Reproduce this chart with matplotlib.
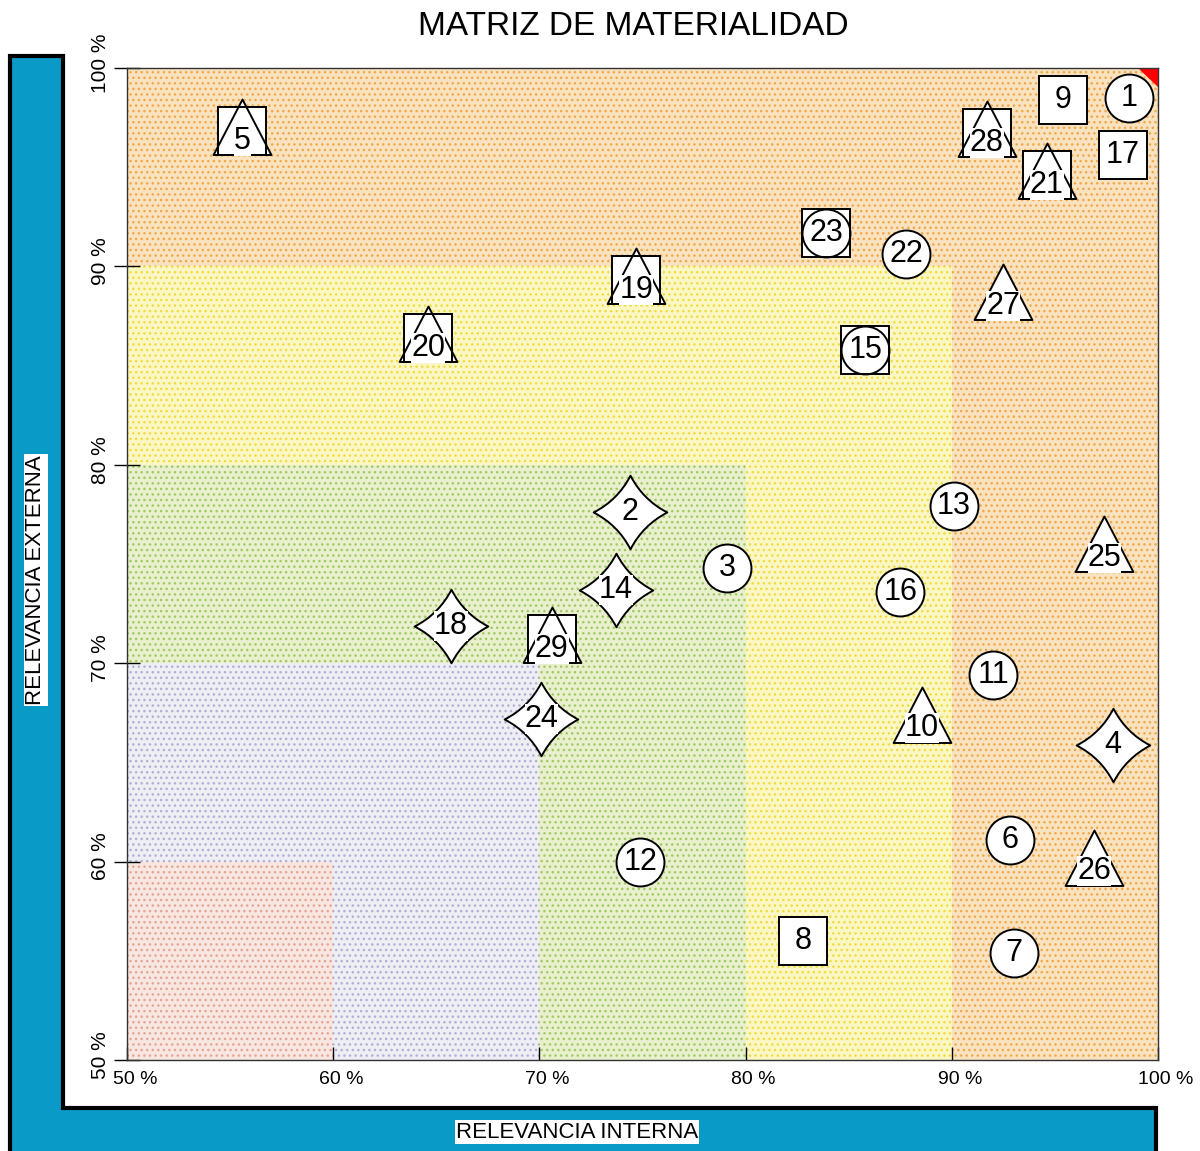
import numpy as np
import matplotlib.pyplot as plt
from matplotlib.path import Path
from matplotlib.patches import Rectangle, Polygon
from matplotlib.transforms import ScaledTranslation

plt.rcParams['font.family'] = ['Liberation Sans', 'DejaVu Sans']
plt.rcParams['hatch.linewidth'] = 1.0

# --- data -------------------------------------------------------------
ids = [1, 2, 3, 4, 5, 6, 7, 8, 9, 10, 11, 12, 13, 14, 15,
       16, 17, 18, 19, 20, 21, 22, 23, 24, 25, 26, 27, 28, 29]
interna = [98.6, 74.4, 79.1, 97.8, 55.6, 92.8, 93.0, 82.8, 95.4, 88.55,
           92.0, 74.9, 90.1, 73.7, 85.8, 87.5, 98.3, 65.7, 74.7, 64.6,
           94.6, 87.8, 83.9, 70.1, 97.4, 96.9, 92.5, 91.7, 70.6]
externa = [98.5, 77.6, 74.8, 65.9, 96.8, 61.1, 55.4, 56.0, 98.4, 67.2,
           69.4, 60.0, 77.9, 73.7, 85.8, 73.6, 95.6, 71.9, 89.3, 86.4,
           94.6, 90.6, 91.7, 67.2, 75.8, 60.0, 88.5, 96.7, 71.2]
# c = circle, s = square, t = triangle, x = 4-point star, st / sc = combos
forma = ['c', 'x', 'c', 'x', 'st', 'c', 'c', 's', 's', 't',
         'c', 'c', 'c', 'x', 'sc', 'c', 's', 'x', 'st', 'st',
         'st', 'c', 'sc', 'x', 't', 't', 't', 'st', 'st']

zone_lim = [100, 90, 80, 70, 60]
zone_face = ['#f9e2c0', '#fbf7c4', '#e8f0ce', '#eeeef5', '#f8e6e0']
zone_dot = ['#f0a848', '#eedc40', '#a4c864', '#b0b0d4', '#e4a498']

ticks = [50, 60, 70, 80, 90, 100]

# --- marker shapes ----------------------------------------------------
k = 0.34
star = Path([(0, 1), (k, k), (1, 0), (k, -k), (0, -1), (-k, -k), (-1, 0),
             (-k, k), (0, 1), (0, 1)],
            [Path.MOVETO] + [Path.CURVE3] * 8 + [Path.CLOSEPOLY])
tri = Path([(0, 1.36), (-1.23, -1), (1.23, -1), (0, 1.36)],
           [Path.MOVETO, Path.LINETO, Path.LINETO, Path.CLOSEPOLY])
mk = {'c': ('o', 34.5), 's': ('s', 34), 't': (tri, 46), 'x': (star, 53)}

fig = plt.figure(figsize=(12, 11.51), dpi=100)

# blue frame behind everything
bg = fig.add_axes([0, 0, 1, 1])
bg.set_xlim(0, 1200)
bg.set_ylim(1151, 0)
bg.axis('off')
bg.add_patch(Polygon([(10, 1156), (10, 56), (63, 56), (63, 1108),
                      (1156, 1108), (1156, 1156)],
                     closed=True, fc='#0a9ac8', ec='black', lw=3))
bg.text(36, 580, 'RELEVANCIA EXTERNA', rotation=90, ha='center', va='center',
        fontsize=16, bbox=dict(fc='white', ec='none', pad=1))
bg.text(577, 1132, 'RELEVANCIA INTERNA', ha='center', va='center',
        fontsize=16, bbox=dict(fc='white', ec='none', pad=1))
fig.text(0.528, 0.977, 'MATRIZ DE MATERIALIDAD', ha='center', va='center',
         fontsize=24)

ax = fig.add_axes([127 / 1200, 1 - 1060 / 1151, 1031 / 1200, 992 / 1151])
ax.set_xlim(50, 100)
ax.set_ylim(50, 100)

for lim, fc, dc in zip(zone_lim, zone_face, zone_dot):
    ax.add_patch(Rectangle((50, 50), lim - 50, lim - 50, fc=fc, ec=dc,
                           hatch='...', lw=0, zorder=0))
ax.add_patch(Polygon([(99.03, 100), (100, 100), (100, 99.04)], closed=True,
                     fc='red', ec='none', zorder=1))

for n, x, y, f in zip(ids, interna, externa, forma):
    parts = {'st': ['s', 't'], 'sc': ['s', 'c']}.get(f, [f])
    for p in parts:
        m, ms = mk[p]
        ax.plot(x, y, marker=m, ms=ms, mfc='white', mec='none', zorder=3)
    for p in parts:
        m, ms = mk[p]
        ax.plot(x, y, marker=m, ms=ms, mfc='none', mec='black', mew=1.4,
                zorder=4)
    dy = -7 if 't' in f else 0
    box = None if f in ('c', 's', 'sc') else dict(fc='white', ec='none', pad=0)
    ax.annotate(str(n), (x, y), xytext=(0, dy), textcoords='offset points',
                ha='center', va='center', fontsize=22, zorder=5, bbox=box)

ax.set_xticks(ticks)
ax.set_xticklabels([f'{t} %' for t in ticks])
ax.set_yticks(ticks)
ax.set_yticklabels([f'{t} %' for t in ticks], rotation=90, va='center')
ax.tick_params(axis='x', direction='in', length=9.5, width=1, pad=8,
               labelsize=14)
ax.tick_params(axis='y', direction='inout', length=19, width=1, pad=3,
               labelsize=15)
for lab in ax.get_xticklabels():
    lab.set_transform(lab.get_transform()
                      + ScaledTranslation(0.08, 0, fig.dpi_scale_trans))
for lab in ax.get_yticklabels():
    lab.set_transform(lab.get_transform()
                      + ScaledTranslation(0, 0.05, fig.dpi_scale_trans))
for s in ax.spines.values():
    s.set_color('#333333')
    s.set_linewidth(1)

fig.savefig('out.png', dpi=100)
